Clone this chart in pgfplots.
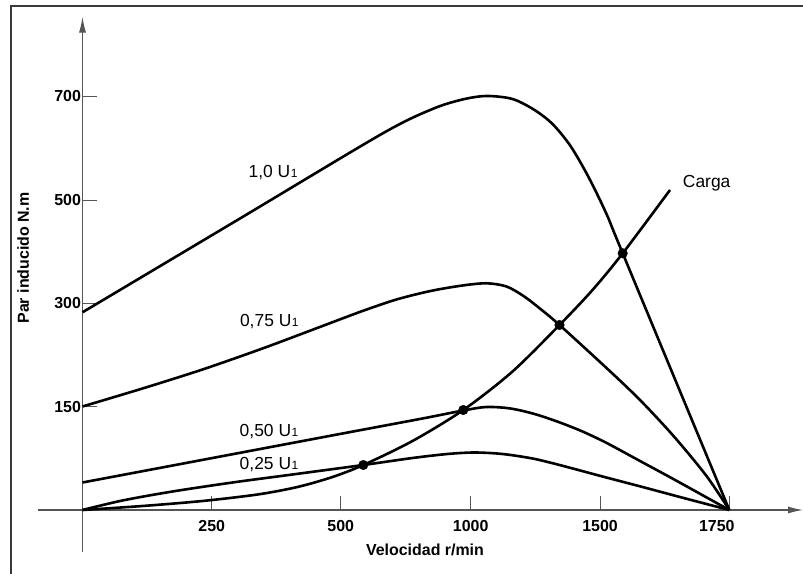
\documentclass[border=0pt]{standalone}
\usepackage{fontspec}
\setmainfont{Liberation Sans}
\usepackage{pgfplots}
\pgfplotsset{compat=1.18}
\usetikzlibrary{arrows.meta}
\definecolor{axisgray}{HTML}{555555}
\definecolor{framegray}{HTML}{3A3A3A}
\pgfplotsset{curve/.style={black, line width=2.6bp, smooth, tension=0.5}}
\tikzset{lab/.style={font=\fontsize{17.5}{20}\selectfont}}
% units are the reference's pixels, origin at the crossing of the axes
\newcommand{\Ulab}[1]{#1 U\kern0.5bp{\fontsize{12}{12}\selectfont 1}}
\begin{document}
\begin{tikzpicture}
\begin{axis}[
  x=1bp, y=1bp,
  axis lines=middle,
  xmin=-44, xmax=720.5, ymin=-42, ymax=493.3,
  clip=false,
  axis line style={draw=axisgray, line width=1.1bp},
  x axis line style={-{Latex[length=15bp,width=7bp]}},
  y axis line style={-{Latex[length=16bp,width=7bp]}},
  xtick={129.2,258.2,388.2,517.5,646.8},
  xticklabels={250,500,1000,1500,{1750\kern25bp}},
  ytick={103.3,206.7,310,414},
  yticklabels={150,300,500,700},
  tick align=inside,
  major tick length=14bp,
  tick style={draw=axisgray, line width=0.9bp},
  ticklabel style={font=\fontsize{16}{18}\selectfont\bfseries},
  xticklabel style={yshift=-7bp},
  yticklabel style={xshift=2bp},
]
% 1,0 U1
\addplot[curve] coordinates {(0,197.7) (160,293) (300,376.5) (350,401) (380,410.5)
  (404,414) (430,411) (452,400) (470,386) (488,364) (506,333) (524,296)
  (540.2,256.7) (646.8,0)};
% 0,75 U1
\addplot[curve] coordinates {(0,103.5) (60,121.5) (120,140.5) (180,161.5) (240,184)
  (280,199) (314,210.5) (348,219) (380,224.5) (404,226.7) (424,223.5) (441,214)
  (458,201) (477,185) (524,142) (557.5,110) (591,74) (624,34) (646.8,0)};
% 0,50 U1
\addplot[curve] coordinates {(0,27.5) (130,52) (260,76.5) (340,91.5) (380.8,99.5)
  (404,103) (428,101.5) (452,96) (476,88) (500,78.5) (524.2,67) (557.5,49)
  (590.8,31) (624.2,12.5) (646.8,0)};
% 0,25 U1
\addplot[curve] coordinates {(0,0) (40,9.5) (90,18.5) (150,27.5) (210,35.5) (280.8,45)
  (330,52) (365,56) (392,57.5) (420,56) (450,51.5) (477,45) (520,33.5) (560,23)
  (600,12.3) (646.8,0)};
% Carga
\addplot[curve] coordinates {(0,0) (60,4) (120,9) (175,15.5) (215,23) (250,33)
  (280.8,45) (330,69) (380.8,100) (430,138.5) (477,185) (510,220) (540.2,256.7)
  (587.5,320)};
% operating points
\addplot[only marks, mark=*, mark size=4.8bp, black] coordinates {
  (280.8,45) (380.8,100) (477,185) (540.2,256.7)};

\node[lab] at (axis cs:190.5,337) {\Ulab{1,0}};
\node[lab] at (axis cs:186.8,188.3) {\Ulab{0,75}};
\node[lab] at (axis cs:186.5,78.3) {\Ulab{0,50}};
\node[lab] at (axis cs:186.5,45) {\Ulab{0,25}};
\node[lab] at (axis cs:624.2,326.7) {Carga};
\node[font=\fontsize{16}{18}\selectfont\bfseries] at (axis cs:342.5,-40) {Velocidad r/min};
\node[font=\fontsize{16}{18}\selectfont\bfseries, rotate=90] at (axis cs:-59.2,252) {Par inducido N.m};

\coordinate (fbl) at (axis cs:-71.5,-70);
\coordinate (ftl) at (axis cs:-71.5,504);
\coordinate (ftr) at (axis cs:730,504);
\coordinate (bbll) at (axis cs:-82.5,-64);
\coordinate (bbur) at (axis cs:720.5,510);
\end{axis}
\draw[framegray, line width=1.6bp] (fbl) -- (ftl) -- (ftr);
\pgfresetboundingbox
\path[use as bounding box] (bbll) rectangle (bbur);
\end{tikzpicture}
\end{document}
